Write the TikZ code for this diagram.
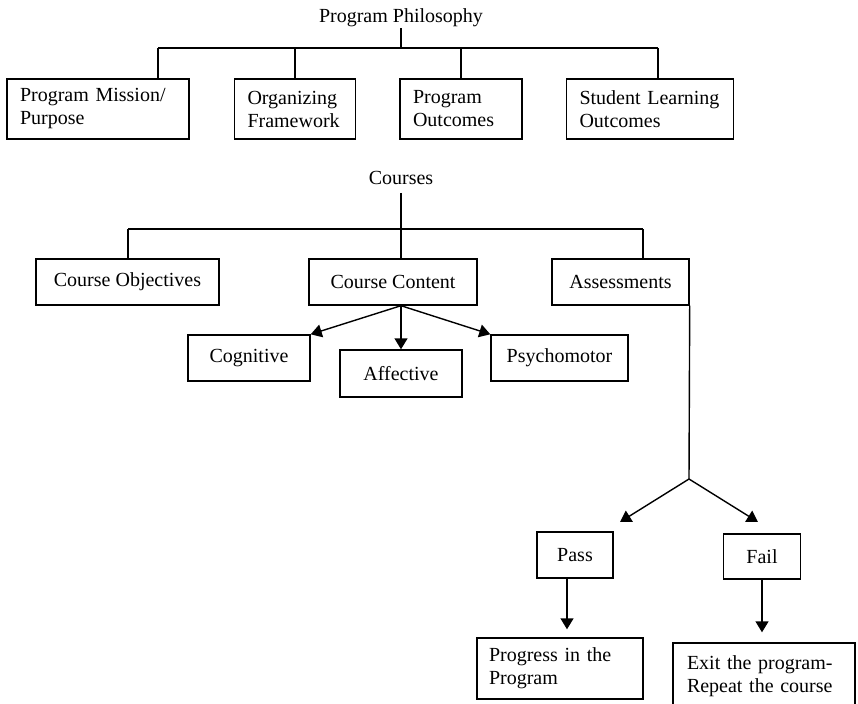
\documentclass[tikz,border=0pt]{standalone}
\usepackage{fontspec}
\setmainfont{Liberation Serif}
\usetikzlibrary{arrows.meta}
\newcommand{\boxfont}{\fontsize{20}{23}\selectfont}

\begin{document}
\begin{tikzpicture}[x=1pt,y=-1pt,>={Triangle[length=11pt,width=13pt]},line width=1.4pt,
    box/.style={draw,inner sep=0pt,minimum height=46pt,font=\boxfont},
    twoline/.style={draw,inner xsep=13pt,inner ysep=0pt,minimum height=60pt,align=left,font=\boxfont},
    heading/.style={inner sep=0pt,font=\boxfont}]
  \useasboundingbox (0,0) rectangle (858,703);

  % program level
  \node[heading,anchor=base] (PP) at (401,23) {Program Philosophy};
  \node[twoline,text width=156pt] (PM) at (98,109)  {Program Mission/\\Purpose};
  \node[twoline,text width=95pt]  (OF) at (295,109) {Organizing\\Framework};
  \node[twoline,text width=96pt]  (PO) at (461,109) {Program\\Outcomes};
  \node[twoline,text width=141pt] (SL) at (650,109) {Student Learning\\Outcomes};

  \coordinate (pl) at (158,48);
  \coordinate (pr) at (658,48);
  \draw (PP.south) -- (PP.south |- pl);
  \draw (pl) -- (pr);
  \draw (pl) -- (pl |- PM.north);
  \draw (OF.north |- pl) -- (OF.north);
  \draw (PO.north |- pl) -- (PO.north);
  \draw (pr) -- (pr |- SL.north);

  % course level
  \node[heading,anchor=base] (C) at (401,185) {Courses};
  \node[box,minimum width=183pt] (CO) at (127.5,282) {Course Objectives};
  \node[box,minimum width=168pt] (CC) at (393,282)   {Course Content};
  \node[box,minimum width=137pt] (AS) at (620.5,282) {Assessments};
  \node[box,minimum width=122pt] (CG) at (249,358)   {Cognitive};
  \node[box,minimum width=122pt,minimum height=47pt] (AF) at (401,373.5) {Affective};
  \node[box,minimum width=137pt] (PS) at (559.5,358) {Psychomotor};

  \coordinate (cl) at (128,229);
  \coordinate (cr) at (643,229);
  \draw[shorten <=7pt] (C.south) -- (C.south |- CC.north);
  \draw (cl) -- (cr);
  \draw (cl) -- (cl |- CO.north);
  \draw (cr) -- (cr |- AS.north);
  \path[->] (C.south |- CC.south) edge (CG.north east)
                                  edge (AF.north)
                                  edge (PS.north west);

  % assessment outcome
  \coordinate (sp) at (689,479);
  \coordinate (pt) at (620,522);
  \coordinate (ft) at (758,522);
  \draw (AS.south east) -- (sp);
  \path[->] (sp) edge (pt)
                 edge (ft);

  \node[box,minimum width=76pt] (P) at (575,555) {Pass};
  \node[box,minimum width=77pt,minimum height=45pt] (F) at (762,556.5) {Fail};
  \node[twoline,text width=142pt,inner xsep=12pt,minimum height=61pt] (PG) at (560,668.5) {Progress in the\\Program};
  \node[twoline,text width=154pt,inner xsep=14pt,minimum height=66pt] (EX) at (764,676) {Exit the program-\\Repeat the course};

  \draw[->,shorten >=8pt] ([xshift=-8pt]P.south) -- ([xshift=-8pt]P.south |- PG.north);
  \draw[->,shorten >=10pt] (F.south) -- (F.south |- EX.north);
\end{tikzpicture}
\end{document}
